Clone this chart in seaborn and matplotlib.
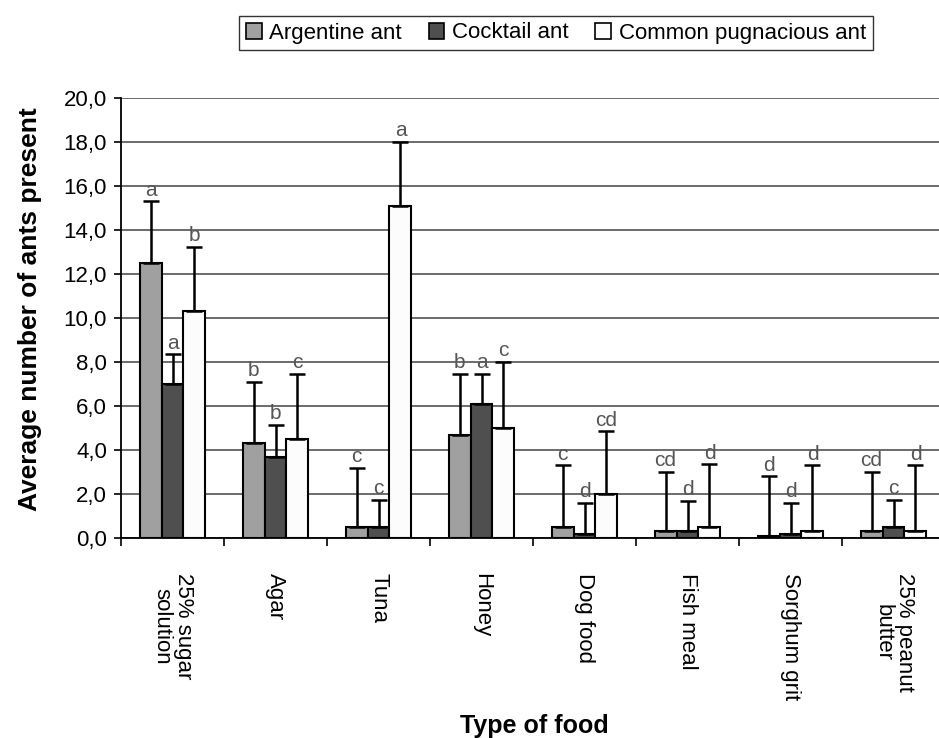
import matplotlib
matplotlib.use("Agg")
import matplotlib.pyplot as plt
import numpy as np
import pandas as pd
import seaborn as sns
from matplotlib.ticker import FixedLocator, FuncFormatter

foods = ["25% sugar\nsolution", "Agar", "Tuna", "Honey", "Dog food",
         "Fish meal", "Sorghum grit", "25% peanut\nbutter"]
species = ["Argentine ant", "Cocktail ant", "Common pugnacious ant"]

argentine = [12.5, 4.3, 0.5, 4.7, 0.5, 0.3, 0.1, 0.3]
cocktail = [7.0, 3.7, 0.5, 6.1, 0.2, 0.3, 0.2, 0.5]
common = [10.3, 4.5, 15.1, 5.0, 2.0, 0.5, 0.3, 0.3]

argentine_err = [2.8, 2.8, 2.7, 2.75, 2.8, 2.7, 2.7, 2.7]
cocktail_err = [1.35, 1.45, 1.25, 1.35, 1.4, 1.4, 1.4, 1.25]
common_err = [2.95, 2.95, 2.9, 3.0, 2.85, 2.85, 3.0, 3.0]

argentine_sig = ["a", "b", "c", "b", "c", "cd", "d", "cd"]
cocktail_sig = ["a", "b", "c", "a", "d", "d", "d", "c"]
common_sig = ["b", "c", "a", "c", "cd", "d", "d", "d"]

colors = ["#a0a0a0", "#4f4f4f", "#fcfcfc"]

plt.rcParams["font.family"] = ["Liberation Sans", "DejaVu Sans"]

df = pd.DataFrame({
    "food": foods * 3,
    "species": np.repeat(species, len(foods)),
    "value": argentine + cocktail + common,
})

fig = plt.figure(figsize=(9.39, 7.38), dpi=100)
ax = fig.add_axes([121 / 939, 200 / 738, 824 / 939, 440 / 738])

sns.barplot(data=df, x="food", y="value", hue="species", hue_order=species,
            palette=colors, width=0.64, gap=0, errorbar=None,
            edgecolor="black", linewidth=1.5, saturation=1, ax=ax)
ax.get_legend().remove()

errs = [argentine_err, cocktail_err, common_err]
sigs = [argentine_sig, cocktail_sig, common_sig]
vals = [argentine, cocktail, common]
for cont, err, sig, val in zip(ax.containers, errs, sigs, vals):
    xs = [p.get_x() + p.get_width() / 2 for p in cont.patches]
    ax.errorbar(xs, val, yerr=[np.zeros(len(err)), err], fmt="none",
                ecolor="black", elinewidth=1.8, capsize=6, capthick=1.8, zorder=3)
    for x, v, e, s in zip(xs, val, err, sig):
        ax.text(x, v + e + 0.08, s, ha="center", va="bottom", fontsize=15,
                color="#555555")

ax.set_xlim(-0.5, len(foods) - 0.5)
ax.set_ylim(0, 20)
ax.set_yticks(np.arange(0, 20.1, 2))
ax.yaxis.set_major_formatter(FuncFormatter(lambda v, p: f"{v:.1f}".replace(".", ",")))
ax.grid(axis="y", color="#444444", linewidth=1.1)
ax.set_axisbelow(True)
for s in ["top", "right"]:
    ax.spines[s].set_visible(False)
for s in ["left", "bottom"]:
    ax.spines[s].set_linewidth(1.3)

ax.set_xticks(range(len(foods)))
ax.set_xticklabels(foods, rotation=270, ha="center", va="top", fontsize=16,
                   linespacing=1.05)
ax.tick_params(axis="x", which="major", length=0, pad=25)
ax.xaxis.set_minor_locator(FixedLocator(np.arange(-0.5, len(foods), 1)))
ax.tick_params(axis="x", which="minor", length=6, width=1.2, direction="out")
ax.tick_params(axis="y", length=5, width=1.2, labelsize=16, pad=5)

ax.set_xlabel("Type of food", fontsize=18, fontweight="bold")
ax.xaxis.set_label_coords(0.502, -0.40)
ax.xaxis.label.set_va("top")
ax.set_ylabel("Average number of ants present", fontsize=19, fontweight="bold")
ax.yaxis.set_label_coords(-0.11, 0.52)
ax.yaxis.label.set_va("center")

handles = [plt.Rectangle((0, 0), 1, 1, facecolor=c, edgecolor="black", linewidth=1.2)
           for c in colors]
fig.legend(handles, species, loc="center", bbox_to_anchor=(556 / 939, 1 - 33 / 738),
           ncol=3, frameon=True, fancybox=False, edgecolor="black", fontsize=16,
           handlelength=0.7, handleheight=0.7, handletextpad=0.35,
           columnspacing=1.2, borderpad=0.3)

fig.savefig("out.png", dpi=100)
